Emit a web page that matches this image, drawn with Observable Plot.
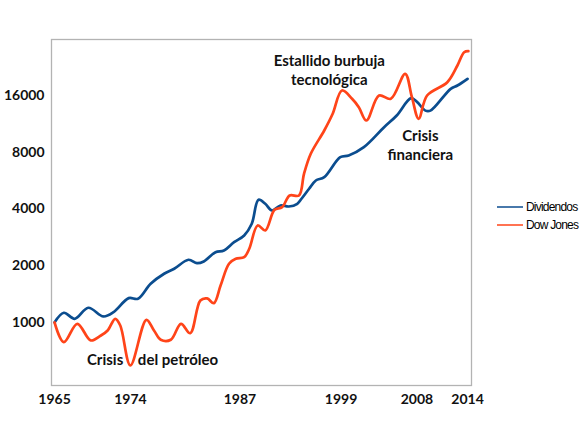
<!DOCTYPE html>
<html><head><meta charset="utf-8">
<script src="https://cdn.jsdelivr.net/npm/d3@7"></script>
<script src="https://cdn.jsdelivr.net/npm/@observablehq/plot@0.6"></script>
<style>
body{margin:0;background:#fff}
#wrap{position:relative;width:587px;height:431px;overflow:hidden}
#legend{position:absolute;left:497px;top:198px;font-family:"Liberation Sans",Arial,sans-serif;font-size:12px;letter-spacing:-0.8px;color:#000}
.item{display:flex;align-items:center;height:18px}
.item svg{margin-right:3px}
</style></head><body><div id="wrap"></div>
<script>
// Series names and colours
const seriesNames = ["Dividendos", "Dow Jones"];
const seriesColors = ["#0b4d8f", "#ff4419"];

// Dividendos
const divYears  = [1965,1966.1,1967.4,1969.0,1970.8,1972.0,1973.8,1974.9,1976.4,1978.0,1979.2,1980.9,1981.9,1982.7,1984.1,1985.1,1986.3,1987.5,1988.4,1989.2,1990.0,1990.8,1991.8,1992.8,1993.8,1994.3,1995.2,1996.0,1997.0,1998.9,1999.9,2001.7,2004.1,2005.6,2007.3,2008.0,2009.0,2009.6,2012.0,2012.8,2014.0];
const divValues = [1000,1126,1046,1197,1076,1134,1346,1336,1604,1813,1927,2151,2063,2107,2360,2410,2667,2894,3338,4476,4263,3928,4175,4124,4263,4531,5120,5665,5898,7531,7688,8508,10862,12533,15500,14800,13300,13300,17365,18076,19617];

// Dow Jones
const djYears  = [1965,1966.1,1967.7,1969.3,1970.5,1971.3,1972.2,1972.8,1974.0,1975.9,1976.8,1977.6,1978.8,1980.0,1981.1,1982.3,1983.1,1983.9,1984.7,1985.7,1986.5,1987.5,1988.1,1989.1,1990.0,1991.1,1992.0,1992.9,1994.0,1994.6,1995.4,1997.0,1998.0,1999.1,2000.3,2001.1,2002.0,2003.5,2004.9,2006.6,2007.4,2008.2,2009.2,2011.6,2012.8,2013.6,2014.1];
const djValues = [1000,786,984,803,853,907,1046,964,592,1033,907,810,810,984,877,1308,1341,1266,1571,2048,2177,2220,2460,3270,3076,3961,4089,4717,4717,6148,7851,10434,12797,17010,15368,13872,11788,16000,15368,20855,15670,12037,16000,18820,23088,27150,27480];

// Axis ticks
const xTicks = [1965, 1974, 1987, 1999, 2008, 2014];
const yTicks = [1000, 2000, 4000, 8000, 16000];

// Annotations
const noteTexts  = ["Estallido burbuja\ntecnológica", "Crisis\nfinanciera", "Crisis", "del petróleo"];
const noteYears  = [1997.6, 2008.4, 1971.0, 1979.65];
const noteValues = [22100, 8800, 644, 644];

const rows = [
  ...divYears.map((y, i) => ({year: y, value: divValues[i], series: seriesNames[0]})),
  ...djYears.map((y, i) => ({year: y, value: djValues[i], series: seriesNames[1]}))
];
const notes = noteTexts.map((t, i) => ({text: t, year: noteYears[i], value: noteValues[i]}));

const font = "Lato, 'Open Sans', sans-serif";
const chart = Plot.plot({
  width: 587, height: 431,
  marginLeft: 51, marginRight: 116, marginTop: 39, marginBottom: 46,
  style: {fontFamily: font, background: "#fff"},
  x: {domain: [1964.64, 2014.47], label: null},
  y: {type: "log", domain: [463, 31710], label: null, axis: null},
  color: {domain: seriesNames, range: seriesColors},
  marks: [
    Plot.frame({stroke: "#b3b3b3", strokeWidth: 1.3}),
    Plot.axisX(xTicks, {tickSize: 0, tickPadding: 9, fontSize: 14, fontWeight: "bold", fill: "#111", tickFormat: d => String(d)}),
    Plot.text(yTicks, {y: d => d, text: d => String(d), frameAnchor: "left", textAnchor: "end", dx: -7, fontSize: 14, fontWeight: "bold", fill: "#111"}),
    Plot.line(rows, {x: "year", y: "value", stroke: "series", z: "series", strokeWidth: 2.7, curve: "catmull-rom"}),
    Plot.text(notes, {x: "year", y: "value", text: "text", fontSize: 15, fontWeight: "bold", fill: "#111", lineHeight: 1.3})
  ]
});
document.getElementById("wrap").appendChild(chart);

const legend = document.createElement("div");
legend.id = "legend";
seriesNames.forEach((n, i) => {
  const it = document.createElement("div");
  it.className = "item";
  it.innerHTML = `<svg width="26" height="4"><line x1="0" x2="26" y1="2" y2="2" stroke="${seriesColors[i]}" stroke-width="1.5"/></svg><span>${n}</span>`;
  legend.appendChild(it);
});
document.getElementById("wrap").appendChild(legend);
</script>
</body></html>
